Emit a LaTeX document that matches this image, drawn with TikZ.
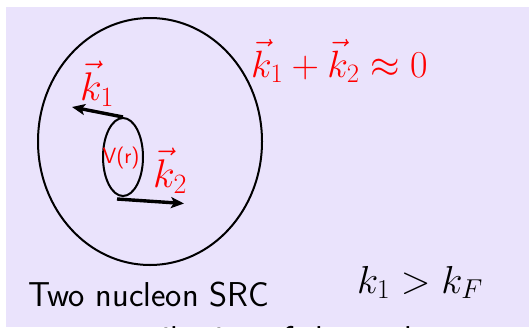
\RequirePackage{fix-cm}
\documentclass[tikz,border=0pt]{standalone}
\usetikzlibrary{shapes.geometric,arrows.meta}
\definecolor{lav}{RGB}{234,227,252}
\definecolor{kred}{RGB}{255,0,0}
\tikzset{
  ring/.style={draw=black,ellipse,line width=2pt,inner sep=0pt},
  karrow/.style={line width=3.4pt,-{Stealth[length=13pt,width=11pt,inset=3pt]}},
  redmath/.style={text=kred,inner sep=0pt,anchor=base west,font=\fontsize{40}{44}\selectfont},
  blackmath/.style={text=black,inner sep=0pt,anchor=base west,font=\fontsize{39}{44}\selectfont},
  caption/.style={text=black,inner sep=0pt,anchor=base west,font=\sffamily\fontsize{34.5}{40}\selectfont}
}
\begin{document}
\begin{tikzpicture}[x=1pt,y=-1pt]
\useasboundingbox (0,0) rectangle (529,327);
\fill[lav] (6,7) rectangle (529,327);
\node[ring,minimum width=224pt,minimum height=247pt] (outer) at (150,141.5) {};
\node[ring,minimum width=40pt,minimum height=78pt] (inner) at (123,157) {};
\node[text=kred,inner sep=0pt,font=\sffamily\fontsize{22}{24}\selectfont] (v) at (121,158) {V(r)};
\coordinate (k1start) at (123,117);
\coordinate (k1end) at (72,107);
\coordinate (k2start) at (117,199);
\coordinate (k2end) at (184,203.5);
\draw[karrow] (k1start) -- (k1end);
\draw[karrow] (k2start) -- (k2end);
\node[redmath] (k1) at (80,100) {$\vec{k}_1$};
\node[redmath] (k2) at (153,187) {$\vec{k}_2$};
\node[redmath,font=\fontsize{38}{42}\selectfont] (sum) at (251,77) {$\vec{k}_1+\vec{k}_2\approx 0$};
\node[blackmath] (kf) at (357,293) {$k_1>k_F$};
\node[caption] (src) at (28,306) {Two nucleon SRC};
\begin{scope}
\clip (6,7) rectangle (529,327);
\node[caption] (cont) at (92,350) {contribution of the nucleus};
\end{scope}
\end{tikzpicture}
\end{document}
